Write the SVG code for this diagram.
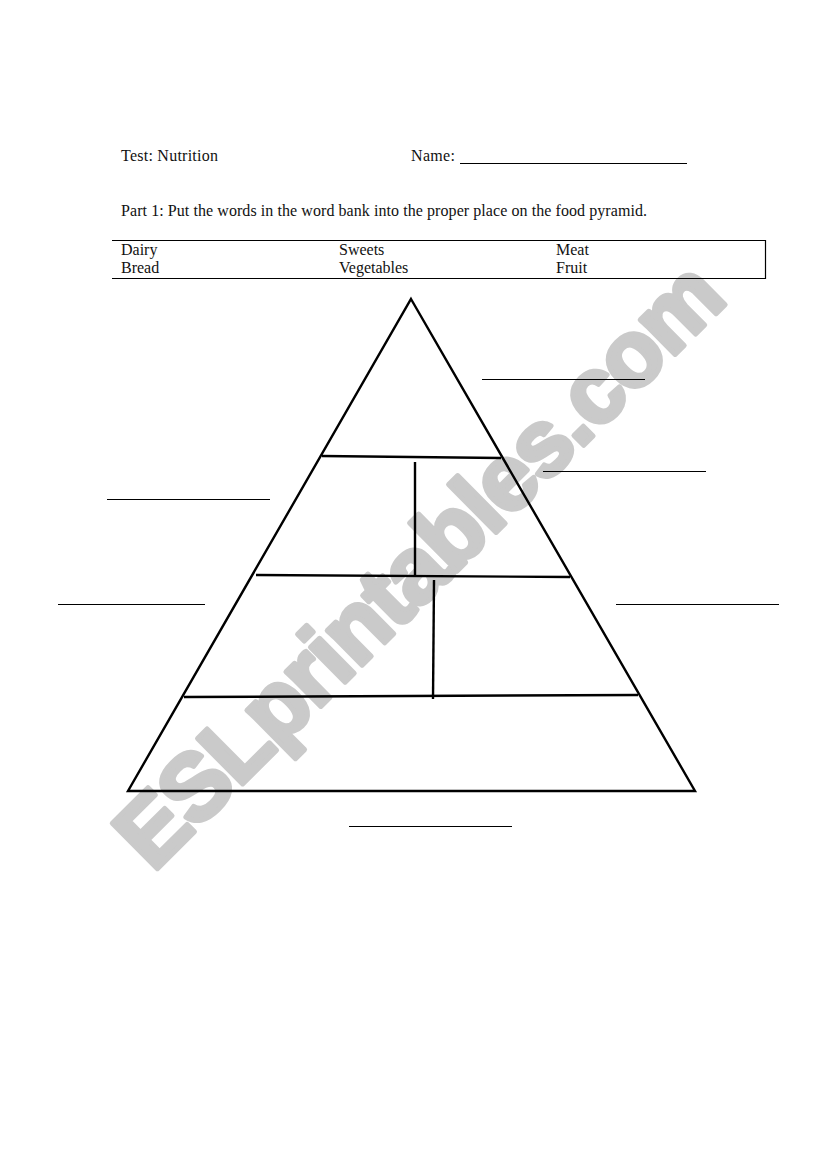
<svg xmlns="http://www.w3.org/2000/svg" width="821" height="1169" viewBox="0 0 821 1169">
<style>
text.t{font-family:'Liberation Serif','DejaVu Serif','Times New Roman',serif;font-size:16px;fill:#111}
.thin{stroke:#000;stroke-width:1.2;fill:none}
.thick{stroke:#000;stroke-width:2.4;fill:none;stroke-linejoin:miter}
.wm{font-family:'Liberation Sans',Arial,sans-serif;font-weight:bold;font-size:93px;fill:#cacaca;stroke:#cacaca;stroke-width:5;stroke-linejoin:round}
</style>
<rect width="821" height="1169" fill="#fff"/>
<g id="watermark">
<text class="wm" transform="translate(153,873) rotate(-44.8)" textLength="812" lengthAdjust="spacing">ESLprintables.com</text>
</g>
<g id="header">
<text class="t" font-family="Liberation Serif, DejaVu Serif, serif" x="121" y="161" textLength="97">Test: Nutrition</text>
<text class="t" font-family="Liberation Serif, DejaVu Serif, serif" x="411" y="161" textLength="44">Name:</text>
<line class="thin" x1="460" y1="163.5" x2="687" y2="163.5"/>
<text class="t" font-family="Liberation Serif, DejaVu Serif, serif" x="121" y="216" textLength="526">Part 1: Put the words in the word bank into the proper place on the food pyramid.</text>
</g>
<g id="wordbank">
<line class="thin" x1="112" y1="240.5" x2="765.5" y2="240.5"/>
<line class="thin" x1="112" y1="278.5" x2="765.5" y2="278.5"/>
<line class="thin" x1="765.5" y1="240" x2="765.5" y2="279"/>
<text class="t" font-family="Liberation Serif, DejaVu Serif, serif" x="121" y="255">Dairy</text>
<text class="t" font-family="Liberation Serif, DejaVu Serif, serif" x="121" y="273">Bread</text>
<text class="t" font-family="Liberation Serif, DejaVu Serif, serif" x="339" y="255">Sweets</text>
<text class="t" font-family="Liberation Serif, DejaVu Serif, serif" x="339" y="273">Vegetables</text>
<text class="t" font-family="Liberation Serif, DejaVu Serif, serif" x="556" y="255">Meat</text>
<text class="t" font-family="Liberation Serif, DejaVu Serif, serif" x="556" y="273">Fruit</text>
</g>
<g id="pyramid">
<polygon class="thick" points="411,299 695,791 128,791"/>
<line class="thick" x1="322" y1="456" x2="501" y2="458"/>
<line class="thick" x1="415" y1="462" x2="415" y2="576"/>
<line class="thick" x1="256" y1="575" x2="570" y2="577"/>
<line class="thick" x1="434" y1="580" x2="433" y2="699"/>
<line class="thick" x1="184" y1="697" x2="638" y2="695"/>
</g>
<g id="blanks">
<line class="thin" x1="482" y1="379.5" x2="645" y2="379.5"/>
<line class="thin" x1="543" y1="471.5" x2="706" y2="471.5"/>
<line class="thin" x1="107" y1="499.5" x2="270" y2="499.5"/>
<line class="thin" x1="58" y1="604.5" x2="205" y2="604.5"/>
<line class="thin" x1="616" y1="604.5" x2="779" y2="604.5"/>
<line class="thin" x1="349" y1="826.5" x2="512" y2="826.5"/>
</g>
</svg>
